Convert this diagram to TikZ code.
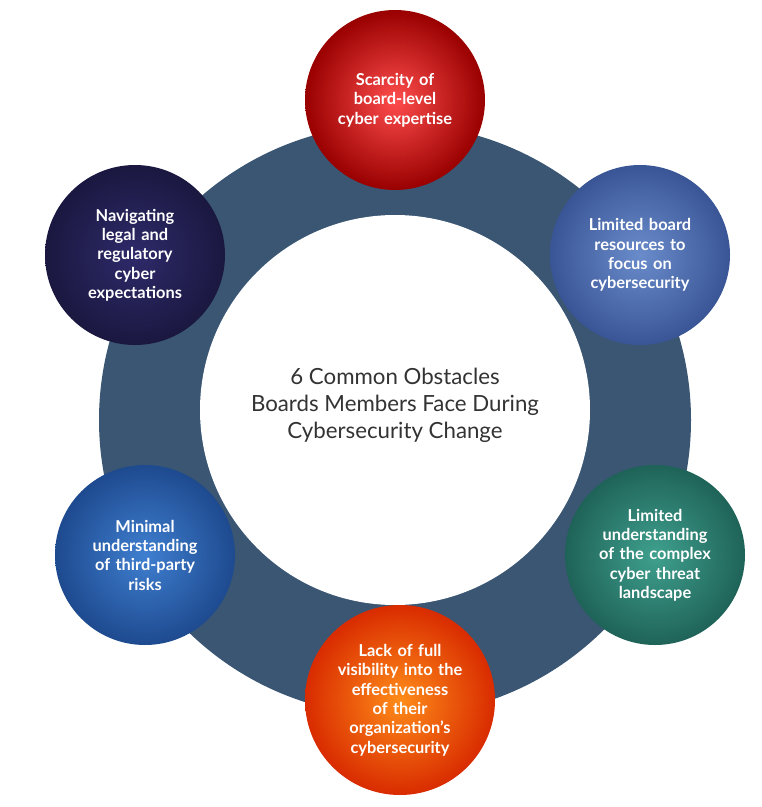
\documentclass[tikz,border=0pt]{standalone}
\usepackage{fontspec}
\setmainfont{Lato}
\usepackage{xcolor}
\usepackage{tikz}
\usetikzlibrary{positioning}

\definecolor{ringblue}{HTML}{3A5673}
\definecolor{centertext}{HTML}{333333}
\definecolor{resin}{HTML}{6A8CCB}
\definecolor{resout}{HTML}{3A5596}
\definecolor{thirdin}{HTML}{3F7FD0}
\definecolor{thirdout}{HTML}{1E4A8F}
\definecolor{legalin}{HTML}{2E2A6A}
\definecolor{legalout}{HTML}{1A1840}
\definecolor{tealin}{HTML}{3FA08E}
\definecolor{tealout}{HTML}{1F6358}

\tikzset{
  bubble/.style={circle, minimum size=5.4cm, align=center, text=white,
    font=\fontsize{14}{16.5}\selectfont\bfseries, text width=3.9cm},
}

\begin{document}
\begin{tikzpicture}[x=0.03cm, y=-0.03cm]
\useasboundingbox (0,0) rectangle (762,807);
\fill[white] (0,0) rectangle (762,807);

% Anneau principal
\fill[ringblue] (395,420) circle (296);
\fill[white] (395,410) circle (195);
\node[font=\fontsize{19}{23}\selectfont, text=centertext, align=center] (centre) at (395,405)
  {6 Common Obstacles\\Boards Members Face During\\Cybersecurity Change};

% Cercles satellites
\shade[inner color=red!70!white, outer color=red!60!black] (395,100) circle (90);
\node[bubble] (scarcity) at (395,100) {Scarcity of\\board-level\\cyber expertise};

\shade[inner color=resin, outer color=resout] (640,255) circle (90);
\node[bubble] (resources) at (640,255) {Limited board\\resources to\\focus on\\cybersecurity};

\shade[inner color=tealin, outer color=tealout] (655,555) circle (90);
\node[bubble] (threat) at (655,555) {Limited\\understanding\\of the complex\\cyber threat\\landscape};

\shade[inner color=orange!90!white, outer color=orange!40!red!85!black] (400,700) circle (95);
\node[bubble] (visibility) at (400,700) {Lack of full\\visibility into the\\effectiveness\\of their\\organization’s\\cybersecurity};

\shade[inner color=thirdin, outer color=thirdout] (145,555) circle (90);
\node[bubble] (thirdparty) at (145,555) {Minimal\\understanding\\of third-party\\risks};

\shade[inner color=legalin, outer color=legalout] (135,255) circle (90);
\node[bubble] (legal) at (135,255) {Navigating\\legal and\\regulatory\\cyber\\expectations};

\end{tikzpicture}
\end{document}
